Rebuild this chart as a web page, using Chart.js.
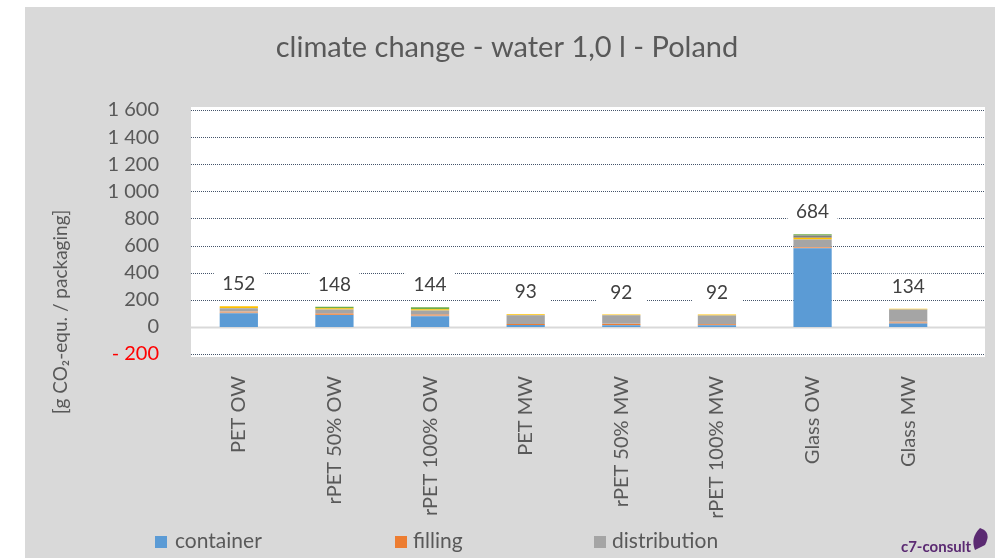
<!DOCTYPE html>
<html>
<head>
<meta charset="utf-8">
<script src="https://cdn.jsdelivr.net/npm/chart.js@4.4.1/dist/chart.umd.min.js"></script>
<style>
  html, body { margin: 0; padding: 0; background: #fff; }
  #wrap { position: relative; width: 995px; height: 558px; }
</style>
</head>
<body>
<div id="wrap"><canvas id="chart" width="995" height="558"></canvas></div>
<script>
const categories = ['PET OW', 'rPET 50% OW', 'rPET 100% OW', 'PET MW', 'rPET 50% MW', 'rPET 100% MW', 'Glass OW', 'Glass MW']

// stacked contributions, g CO2-equ. per packaging
const container = [100, 88, 78, 14, 13, 12, 580, 25]
const filling = [5, 5, 5, 8, 8, 8, 5, 5]
const secondary = [10, 10, 12, 0, 2, 0, 5, 8]
const distribution = [22, 25, 25, 63, 62, 64, 55, 90]
const closure = [15, 10, 10, 8, 7, 8, 12, 6]
const label = [0, 0, 0, 0, 0, 0, 17, 0]
const endOfLife = [0, 10, 14, 0, 0, 0, 10, 0]

const yTicks = [-200, 0, 200, 400, 600, 800, 1000, 1200, 1400, 1600]
const legendNames = ['container', 'filling', 'distribution']

const FONT = 'Lato, "Open Sans", sans-serif'
const TEXT = '#595959'

const canvas = document.getElementById('chart')

function fmt (v) {
  const s = String(Math.abs(v)).replace(/\B(?=(\d{3})+(?!\d))/g, ' ')
  return v < 0 ? '- ' + s : s
}

const background = {
  id: 'background',
  beforeDraw (chart) {
    const c = chart.ctx
    const a = chart.chartArea
    c.save()
    c.fillStyle = '#d9d9d9'
    c.fillRect(25, 7, chart.width - 25, chart.height - 7)
    c.fillStyle = '#ffffff'
    c.fillRect(a.left, a.top - 3, 985 - a.left, a.bottom - a.top + 6)
    // title
    c.fillStyle = TEXT
    c.font = '29px ' + FONT
    c.textAlign = 'center'
    c.textBaseline = 'middle'
    c.fillText('climate change - water 1,0 l - Poland', 507, 48)
    // y axis title
    c.translate(61, 312)
    c.rotate(-Math.PI / 2)
    c.font = '19px ' + FONT
    c.fillText('[g CO\u2082-equ. / packaging]', 0, 0)
    c.restore()
  },
  beforeDatasetsDraw (chart) {
    const c = chart.ctx
    const a = chart.chartArea
    const ys = chart.scales.y
    c.save()
    ys.ticks.forEach(t => {
      const y = Math.round(ys.getPixelForValue(t.value)) + 0.5
      c.beginPath()
      if (t.value === 0) {
        c.setLineDash([])
        c.strokeStyle = '#d9d9d9'
        c.lineWidth = 2
      } else {
        c.setLineDash([1, 1])
        c.strokeStyle = '#44546a'
        c.lineWidth = 1
      }
      c.moveTo(a.left, y)
      c.lineTo(985, y)
      c.stroke()
    })
    c.restore()
  },
  afterDatasetsDraw (chart) {
    const c = chart.ctx
    const ys = chart.scales.y
    const meta = chart.getDatasetMeta(0)
    c.save()
    c.font = '19px ' + FONT
    c.textAlign = 'center'
    c.textBaseline = 'middle'
    categories.forEach((cat, i) => {
      let total = 0
      chart.data.datasets.forEach(ds => { total += ds.data[i] })
      const x = meta.data[i].x
      const y = ys.getPixelForValue(total) - 22
      c.fillStyle = '#ffffff'
      c.fillRect(x - 25, y - 13, 50, 26)
      c.fillStyle = '#404040'
      c.fillText(String(total), x, y)
    })
    c.restore()
  },
  afterDraw (chart) {
    const c = chart.ctx
    c.save()
    // legend
    const pos = [[155, 175], [395, 413], [594, 612]]
    c.font = '21px ' + FONT
    c.textBaseline = 'middle'
    c.textAlign = 'left'
    legendNames.forEach((name, k) => {
      const ds = chart.data.datasets.find(d => d.label === name)
      c.fillStyle = ds.backgroundColor
      c.fillRect(pos[k][0], 536, 12, 12)
      c.fillStyle = TEXT
      c.fillText(name, pos[k][1], 541)
    })
    // logo
    c.fillStyle = '#5b2a72'
    c.font = 'bold 15px ' + FONT
    c.textAlign = 'right'
    c.textBaseline = 'alphabetic'
    c.fillText('c7-consult', 971, 552)
    c.beginPath()
    c.moveTo(975, 550)
    c.quadraticCurveTo(970, 538, 980, 528)
    c.quadraticCurveTo(992, 532, 985, 545)
    c.closePath()
    c.fill()
    c.restore()
  }
}

new Chart(canvas, {
  type: 'bar',
  data: {
    labels: categories,
    datasets: [
      { label: 'container', data: container, backgroundColor: '#5b9bd5' },
      { label: 'filling', data: filling, backgroundColor: '#ed7d31' },
      { label: 'secondary packaging', data: secondary, backgroundColor: '#d9a88a' },
      { label: 'distribution', data: distribution, backgroundColor: '#a5a5a5' },
      { label: 'closure', data: closure, backgroundColor: '#ffc000' },
      { label: 'label', data: label, backgroundColor: '#7f7f7f' },
      { label: 'end of life', data: endOfLife, backgroundColor: '#70ad47' }
    ].map(d => Object.assign(d, { barPercentage: 0.4, categoryPercentage: 1, borderWidth: 0 }))
  },
  options: {
    responsive: false,
    animation: false,
    layout: { padding: { top: 110, left: 0, right: 39, bottom: 0 } },
    plugins: {
      legend: { display: false },
      tooltip: { enabled: false }
    },
    scales: {
      x: {
        stacked: true,
        grid: { display: false },
        border: { display: false },
        ticks: {
          color: TEXT,
          font: { family: FONT, size: 20 },
          minRotation: 90,
          maxRotation: 90,
          autoSkip: false,
          padding: 14
        },
        afterFit: s => { s.height = 204 }
      },
      y: {
        stacked: true,
        min: -200,
        max: 1600,
        grid: { display: false },
        border: { display: false },
        afterBuildTicks: s => { s.ticks = yTicks.map(v => ({ value: v })) },
        ticks: {
          color: c => (c.tick && c.tick.value < 0 ? '#ff0000' : TEXT),
          font: { family: FONT, size: 20 },
          autoSkip: false,
          padding: 24,
          callback: v => fmt(v)
        },
        afterFit: s => { s.width = 191 }
      }
    }
  },
  plugins: [background]
})
</script>
</body>
</html>
